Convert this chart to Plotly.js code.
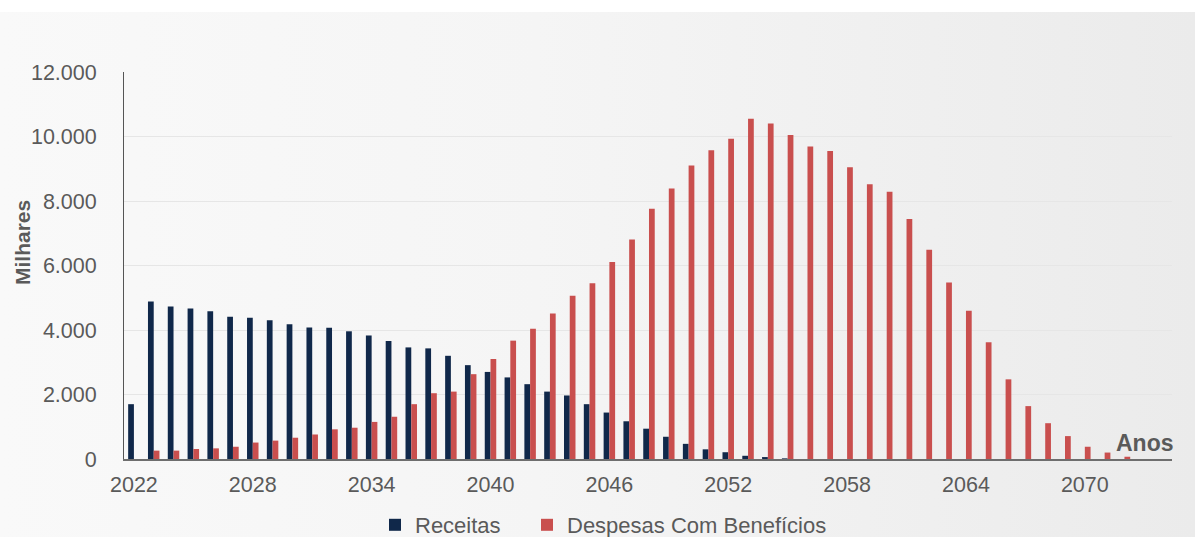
<!DOCTYPE html>
<html>
<head>
<meta charset="utf-8">
<script src="https://cdn.plot.ly/plotly-3.0.1.min.js"></script>
<style>
  html, body { margin: 0; padding: 0; background: #ffffff; }
  #wrap { position: relative; width: 1195px; height: 537px; background: #ffffff; }
  #bg { position: absolute; left: 0; top: 12px; width: 1195px; height: 525px;
        background: linear-gradient(90deg, #f9f9f9 0%, #f5f5f5 45%, #ebebeb 100%); }
  #chart { position: absolute; left: 0; top: 0; width: 1195px; height: 537px; }
</style>
</head>
<body>
<div id="wrap">
  <div id="bg"></div>
  <div id="chart"></div>
</div>
<script>
const years = [2022,2023,2024,2025,2026,2027,2028,2029,2030,2031,2032,2033,2034,2035,2036,2037,2038,2039,2040,2041,
  2042,2043,2044,2045,2046,2047,2048,2049,2050,2051,2052,2053,2054,2055,2056,2057,2058,2059,2060,2061,
  2062,2063,2064,2065,2066,2067,2068,2069,2070,2071,2072];

const receitas = [1700,4880,4730,4670,4580,4410,4380,4300,4180,4080,4070,3960,3830,3660,3460,3430,3200,2910,2700,2530,
  2320,2090,1970,1700,1440,1170,940,690,470,300,210,100,60,20,0,0,0,0,0,0,
  0,0,0,0,0,0,0,0,0,0,0];

const despesas = [0,260,260,310,330,380,510,570,660,760,920,970,1150,1310,1700,2040,2090,2630,3100,3670,
  4040,4510,5060,5450,6110,6810,7760,8390,9100,9570,9930,10550,10400,10050,9690,9550,9050,8520,8290,7440,
  6490,5470,4600,3620,2470,1640,1110,710,380,200,70];

const xTicks = [2022,2028,2034,2040,2046,2052,2058,2064,2070];
const yTicks = [0,2000,4000,6000,8000,10000,12000];

const seriesNames = ['Receitas', 'Despesas Com Benefícios'];
const yTitle = 'Milhares';
const xTitle = 'Anos';

const font = 'Liberation Sans, Arial, sans-serif';
const textColor = '#5a5a5a';

const traces = [
  { type: 'bar', name: seriesNames[0], x: years, y: receitas, marker: { color: '#10284a' }, hoverinfo: 'x+y', legend: 'legend' },
  { type: 'bar', name: seriesNames[1], x: years, y: despesas, marker: { color: '#c94f4e' }, hoverinfo: 'x+y', legend: 'legend2' }
];

const L = 124, R = 23, T = 72, B = 78, W = 1195, H = 537;
const pw = W - L - R, ph = H - T - B;

function legendAt(xpx) {
  return {
    orientation: 'h', xref: 'container', yref: 'container',
    x: xpx / W, xanchor: 'left', y: (H - 525) / H, yanchor: 'middle',
    font: { family: font, size: 22, color: textColor },
    bgcolor: 'rgba(0,0,0,0)', itemclick: false, itemdoubleclick: false
  };
}

const layout = {
  width: W, height: H,
  margin: { l: L, r: R, t: T, b: B, pad: 0, autoexpand: false },
  paper_bgcolor: 'rgba(0,0,0,0)',
  plot_bgcolor: 'rgba(0,0,0,0)',
  separators: ',.',
  barmode: 'group',
  bargap: 0.42,
  bargroupgap: 0,
  font: { family: font, color: textColor, size: 21 },
  showlegend: true,
  legend: legendAt(375),
  legend2: legendAt(527),
  xaxis: {
    type: 'linear', range: [2021.5, 2074.4], automargin: false,
    tickvals: xTicks, tickformat: 'd',
    ticks: 'outside', ticklen: 5, tickcolor: 'rgba(0,0,0,0)',
    tickfont: { family: font, size: 21.5, color: textColor },
    showgrid: false, zeroline: false,
    showline: true, linecolor: '#6e6e6e', linewidth: 2
  },
  yaxis: {
    range: [0, 12000], tickvals: yTicks, tickformat: ',d', automargin: false,
    ticks: 'outside', ticklen: 22, tickcolor: 'rgba(0,0,0,0)',
    tickfont: { family: font, size: 21.5, color: textColor },
    showgrid: true, gridcolor: '#e6e6e6', gridwidth: 1,
    zeroline: false, showline: true, linecolor: '#555555', linewidth: 1
  },
  annotations: [
    { text: '<b>' + yTitle + '</b>', textangle: -90, xref: 'paper', yref: 'paper',
      x: (22 - L) / pw, y: (459 - 243) / ph, xanchor: 'center', yanchor: 'middle',
      showarrow: false, font: { family: font, size: 21, color: textColor } },
    { text: '<b>' + xTitle + '</b>', xref: 'paper', yref: 'paper',
      x: 1.0, y: 0, xanchor: 'right', yanchor: 'bottom', yshift: 1, xshift: 4,
      showarrow: false, font: { family: font, size: 23, color: textColor } }
  ]
};

Plotly.newPlot('chart', traces, layout, { displayModeBar: false, staticPlot: true });
</script>
</body>
</html>
